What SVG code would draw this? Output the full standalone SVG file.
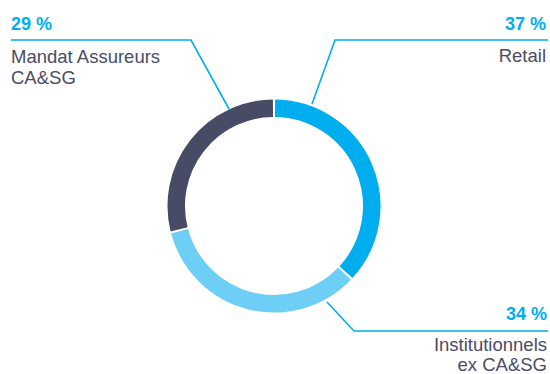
<svg xmlns="http://www.w3.org/2000/svg" width="550" height="374" viewBox="0 0 550 374">
<style>
.pct{font-family:"Liberation Sans",Arial,sans-serif;font-size:18px;font-weight:bold;fill:#00AEEF}
.lbl{font-family:"Liberation Sans",Arial,sans-serif;font-size:18.5px;fill:#4B4B63}
.seg{fill:none;stroke-width:17.5;stroke-linecap:butt}
.lead{fill:none;stroke:#00AEEF;stroke-width:1.6}
</style>
<rect width="550" height="374" fill="#ffffff"/>
<g id="connectors">
<polyline class="lead" points="11,40 191,40 229,109"/>
<polyline class="lead" points="548,40 335,40 312,104"/>
<polyline class="lead" points="327,302 354,331 548,331"/>
</g>
<g id="retail">
<path class="seg" stroke="#00AEEF" d="M275.02,108.25 A97.75,97.75 0 0 1 345.95,272.17"/>
<text class="pct" x="546" y="30" text-anchor="end">37 %</text>
<text class="lbl" x="546" y="62" text-anchor="end">Retail</text>
</g>
<g id="institutionnels">
<path class="seg" stroke="#6DCFF6" d="M344.56,273.65 A97.75,97.75 0 0 1 179.58,231.30"/>
<text class="pct" x="547" y="320" text-anchor="end">34 %</text>
<text class="lbl" x="547" y="351" text-anchor="end">Institutionnels</text>
<text class="lbl" x="547" y="370.5" text-anchor="end">ex CA&amp;SG</text>
</g>
<g id="mandat">
<path class="seg" stroke="#484B65" d="M179.07,229.31 A97.75,97.75 0 0 1 272.98,108.25"/>
<text class="pct" x="11" y="30">29 %</text>
<text class="lbl" x="11" y="63">Mandat Assureurs</text>
<text class="lbl" x="11" y="84">CA&amp;SG</text>
</g>
</svg>
